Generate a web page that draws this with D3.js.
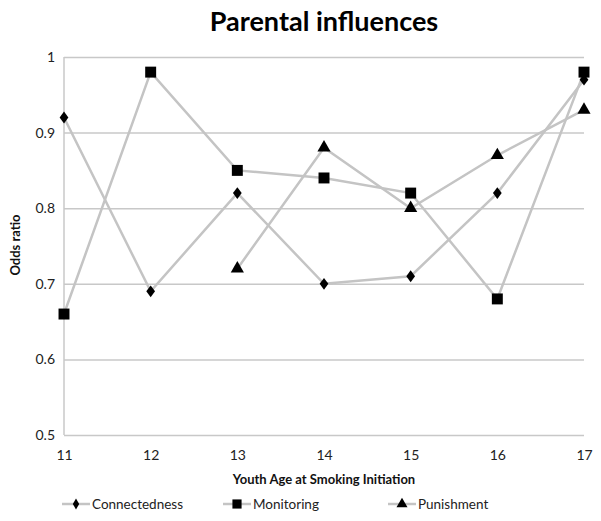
<!DOCTYPE html>
<html><head><meta charset="utf-8">
<script src="https://cdn.jsdelivr.net/npm/d3@7"></script>
<style>body{margin:0;background:#fff;} svg{display:block;}</style>
</head><body>
<script>
const ages = [11, 12, 13, 14, 15, 16, 17];
const connectedness = [0.92, 0.69, 0.82, 0.70, 0.71, 0.82, 0.97];
const monitoring = [0.66, 0.98, 0.85, 0.84, 0.82, 0.68, 0.98];
const punishment = [null, null, 0.72, 0.88, 0.80, 0.87, 0.93];
const yTicks = [0.5, 0.6, 0.7, 0.8, 0.9, 1];
const seriesNames = ["Connectedness", "Monitoring", "Punishment"];

const W = 601, H = 521;
const font = "Lato, 'Open Sans', sans-serif";
const svg = d3.select("body").append("svg").attr("width", W).attr("height", H);
const x = d3.scaleLinear().domain([11, 17]).range([64, 584]);
const y = d3.scaleLinear().domain([0.5, 1]).range([435, 57]);

// title
svg.append("text").attr("x", 324).attr("y", 31).attr("text-anchor", "middle")
  .attr("font-family", font).attr("font-weight", "bold").attr("font-size", 27).attr("fill", "#000")
  .text("Parental influences");

// gridlines
const yAxis = d3.axisLeft(y).tickValues(yTicks).tickSize(-(584 - 64)).tickPadding(9)
  .tickFormat(d => d === 1 ? "1" : d3.format(".1f")(d));
const gy = svg.append("g").attr("transform", "translate(64,0)").call(yAxis);
gy.select(".domain").remove();
gy.selectAll(".tick line").attr("stroke", "#c8c8c8").attr("stroke-width", 1.5);
gy.selectAll(".tick text").attr("font-family", font).attr("font-size", 14).attr("fill", "#222");

// left axis line
svg.append("line").attr("x1", 64).attr("x2", 64).attr("y1", y(1)).attr("y2", y(0.5))
  .attr("stroke", "#c8c8c8").attr("stroke-width", 1.5);

const xAxis = d3.axisBottom(x).tickValues(ages).tickSize(0).tickPadding(15).tickFormat(d3.format("d"));
const gx = svg.append("g").attr("transform", "translate(0,435)").call(xAxis);
gx.select(".domain").remove();
gx.selectAll(".tick text").attr("font-family", font).attr("font-size", 14).attr("fill", "#222");

svg.append("text").attr("x", 324).attr("y", 484).attr("text-anchor", "middle")
  .attr("font-family", font).attr("font-weight", "bold").attr("font-size", 13).attr("fill", "#111")
  .text("Youth Age at Smoking Initiation");

svg.append("text").attr("transform", "translate(20,245) rotate(-90)").attr("text-anchor", "middle")
  .attr("font-family", font).attr("font-weight", "bold").attr("font-size", 13).attr("fill", "#111")
  .text("Odds ratio");

const lineColor = "#c4c4c4";
const line = d3.line().defined(d => d.v != null).x(d => x(d.a)).y(d => y(d.v));
const symbols = [d3.symbolDiamond, d3.symbolSquare, d3.symbolTriangle];
const sizes = [50, 120, 75];
const allSeries = [connectedness, monitoring, punishment];

allSeries.forEach((vals, i) => {
  const pts = ages.map((a, j) => ({a, v: vals[j]}));
  svg.append("path").datum(pts).attr("d", line).attr("fill", "none")
    .attr("stroke", lineColor).attr("stroke-width", 2.5);
});
allSeries.forEach((vals, i) => {
  const pts = ages.map((a, j) => ({a, v: vals[j]})).filter(d => d.v != null);
  svg.selectAll(null).data(pts).enter().append("path")
    .attr("d", d3.symbol().type(symbols[i]).size(sizes[i]))
    .attr("transform", d => `translate(${x(d.a)},${y(d.v)})` + (i === 0 ? " scale(1.15,0.9)" : ""))
    .attr("fill", "#000");
});

// legend
const legX = [62, 223, 388];
seriesNames.forEach((name, i) => {
  const g = svg.append("g").attr("transform", `translate(${legX[i]},504)`);
  g.append("line").attr("x1", 0).attr("x2", 28).attr("y1", 0).attr("y2", 0)
    .attr("stroke", lineColor).attr("stroke-width", 2.5);
  g.append("path").attr("d", d3.symbol().type(symbols[i]).size(sizes[i] * 0.7)).attr("transform", "translate(14,0)").attr("fill", "#000");
  g.append("text").attr("x", 30).attr("y", 5).attr("font-family", font).attr("font-size", 13.5).attr("fill", "#222").text(name);
});
</script>
</body></html>
